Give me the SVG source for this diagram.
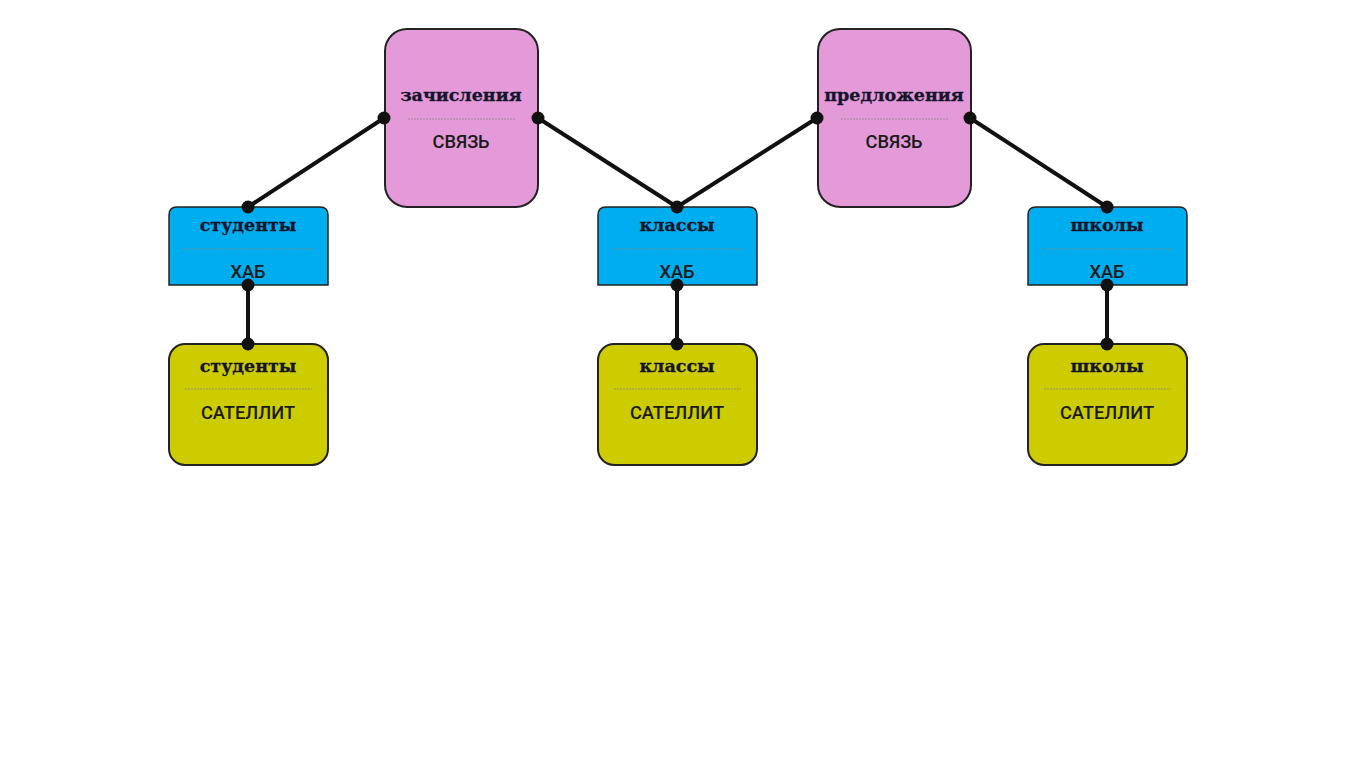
<svg xmlns="http://www.w3.org/2000/svg" width="1357" height="784" viewBox="0 0 1357 784">
<style>
.link{fill:#e49ad9;stroke:#222;stroke-width:2}
.hub{fill:#00aeef;stroke:#222;stroke-width:1.5}
.sat{fill:#cccc00;stroke:#222;stroke-width:2}
.t{font-family:"DejaVu Serif","Liberation Serif",serif;font-weight:bold;font-size:17.5px;fill:#14142a;stroke:#14142a;stroke-width:0.3;text-anchor:middle}
.s{font-family:Roboto,"Liberation Sans",sans-serif;font-weight:500;font-size:18.3px;fill:#1a1a1a;text-anchor:middle}
.sep{stroke:#888;stroke-width:0.8;stroke-dasharray:2 1}
.c{stroke:#111;stroke-width:4;fill:none}
.d{fill:#111}
</style>
<rect width="1357" height="784" fill="#fff"/>
<g id="link-zachisleniya">
<rect class="link" x="385" y="29" width="153" height="178" rx="22"/>
<text class="t" x="461" y="101">зачисления</text>
<line class="sep" x1="408" y1="119" x2="515" y2="119"/>
<text class="s" x="461" y="148">СВЯЗЬ</text>
</g>
<g id="link-predlozheniya">
<rect class="link" x="818" y="29" width="153" height="178" rx="22"/>
<text class="t" x="894" y="101">предложения</text>
<line class="sep" x1="841" y1="119" x2="948" y2="119"/>
<text class="s" x="894" y="148">СВЯЗЬ</text>
</g>
<g id="hub-studenty">
<path class="hub" d="M169,285 V215 Q169,207 177,207 H320 Q328,207 328,215 V285 Z"/>
<text class="t" x="248" y="231">студенты</text>
<line class="sep" x1="183" y1="249" x2="314" y2="249"/>
<text class="s" x="248" y="278">ХАБ</text>
</g>
<g id="hub-klassy">
<path class="hub" d="M598,285 V215 Q598,207 606,207 H749 Q757,207 757,215 V285 Z"/>
<text class="t" x="677" y="231">классы</text>
<line class="sep" x1="612" y1="249" x2="743" y2="249"/>
<text class="s" x="677" y="278">ХАБ</text>
</g>
<g id="hub-shkoly">
<path class="hub" d="M1028,285 V215 Q1028,207 1036,207 H1179 Q1187,207 1187,215 V285 Z"/>
<text class="t" x="1107" y="231">школы</text>
<line class="sep" x1="1042" y1="249" x2="1173" y2="249"/>
<text class="s" x="1107" y="278">ХАБ</text>
</g>
<g id="sat-studenty">
<rect class="sat" x="169" y="344" width="159" height="121" rx="16"/>
<text class="t" x="248" y="372">студенты</text>
<line class="sep" x1="185" y1="389" x2="312" y2="389"/>
<text class="s" x="248" y="419">САТЕЛЛИТ</text>
</g>
<g id="sat-klassy">
<rect class="sat" x="598" y="344" width="159" height="121" rx="16"/>
<text class="t" x="677" y="372">классы</text>
<line class="sep" x1="614" y1="389" x2="741" y2="389"/>
<text class="s" x="677" y="419">САТЕЛЛИТ</text>
</g>
<g id="sat-shkoly">
<rect class="sat" x="1028" y="344" width="159" height="121" rx="16"/>
<text class="t" x="1107" y="372">школы</text>
<line class="sep" x1="1044" y1="389" x2="1171" y2="389"/>
<text class="s" x="1107" y="419">САТЕЛЛИТ</text>
</g>
<g id="connectors">
<line class="c" x1="384" y1="118" x2="248" y2="207"/>
<line class="c" x1="538" y1="118" x2="677" y2="207"/>
<line class="c" x1="817" y1="118" x2="677" y2="207"/>
<line class="c" x1="970" y1="118" x2="1107" y2="207"/>
<line class="c" x1="248" y1="285" x2="248" y2="344"/>
<line class="c" x1="677" y1="285" x2="677" y2="344"/>
<line class="c" x1="1107" y1="285" x2="1107" y2="344"/>
<circle class="d" cx="384" cy="118" r="6.5"/>
<circle class="d" cx="538" cy="118" r="6.5"/>
<circle class="d" cx="817" cy="118" r="6.5"/>
<circle class="d" cx="970" cy="118" r="6.5"/>
<circle class="d" cx="248" cy="207" r="6.5"/>
<circle class="d" cx="677" cy="207" r="6.5"/>
<circle class="d" cx="1107" cy="207" r="6.5"/>
<circle class="d" cx="248" cy="285" r="6.5"/>
<circle class="d" cx="677" cy="285" r="6.5"/>
<circle class="d" cx="1107" cy="285" r="6.5"/>
<circle class="d" cx="248" cy="344" r="6.5"/>
<circle class="d" cx="677" cy="344" r="6.5"/>
<circle class="d" cx="1107" cy="344" r="6.5"/>
</g>
</svg>
